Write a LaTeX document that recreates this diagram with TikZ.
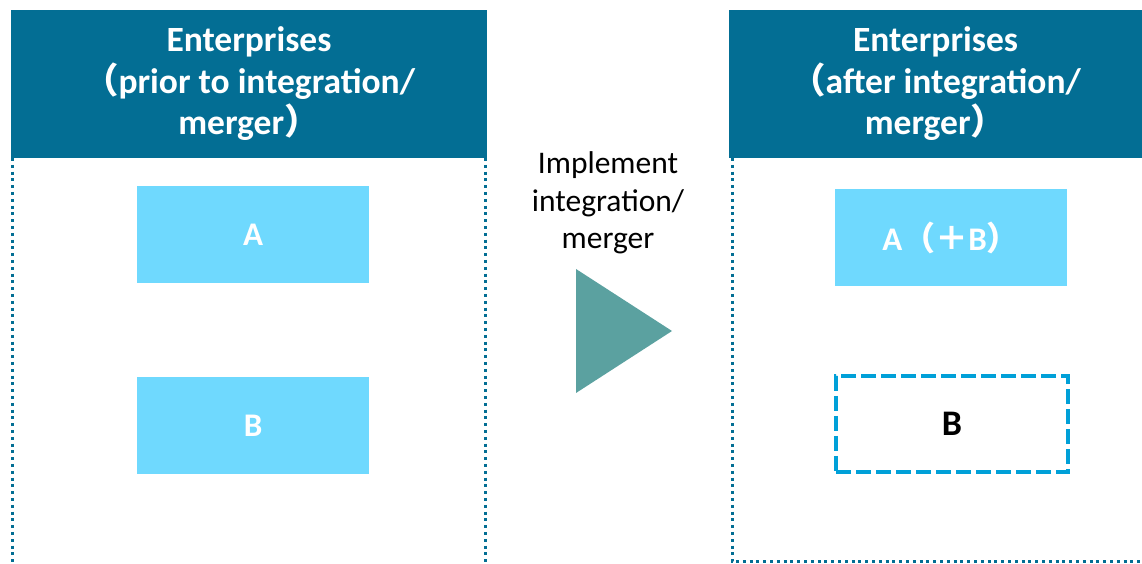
\documentclass[tikz,border=0pt]{standalone}
\usepackage{fontspec}
\setmainfont{Carlito}
\newfontfamily\cjk{Noto Sans CJK SC}
\definecolor{hdr}{RGB}{3,110,148}
\definecolor{lbox}{RGB}{111,217,254}
\definecolor{tri}{RGB}{91,161,160}
\definecolor{dsh}{RGB}{0,160,216}
\begin{document}
\begin{tikzpicture}[x=1pt,y=1pt,
  header/.style={fill=hdr,text=white,inner sep=0pt,minimum height=148pt,align=center,font=\bfseries\fontsize{35.5}{41.5}\selectfont},
  solidbox/.style={fill=lbox,text=white,inner sep=0pt,minimum width=232pt,minimum height=97pt,font=\bfseries\fontsize{33}{38}\selectfont},
  dashbox/.style={draw=dsh,line width=3.5pt,dash pattern=on 15pt off 5pt,inner sep=0pt,minimum width=232pt,minimum height=96pt,font=\bfseries\fontsize{36}{40}\selectfont},
  panel/.style={draw=hdr,line width=3pt,dash pattern=on 3pt off 3.8pt},
  mid/.style={align=center,font=\fontsize{31.5}{37.5}\selectfont}]
\useasboundingbox (0,0) rectangle (1142,564);
% left panel
\draw[panel] (12,406) -- (12,0);
\draw[panel] (485,406) -- (485,0);
\node[header,minimum width=476pt] (hl) at (249,480) {Enterprises\\{\cjk（}prior to integration/\\merger{\cjk）}};
\node[solidbox] (a) at (253,329.5) {A};
\node[solidbox] (b) at (253,138.5) {B};
% right panel
\draw[panel] (732,406) -- (732,2) -- (1142,2);
\node[header,minimum width=413pt] (hr) at (935.5,480) {Enterprises\\{\cjk（}after integration/\\merger{\cjk）}};
\node[solidbox] (ab) at (951,326.5) {A{\cjk（＋}B{\cjk）}};
\node[dashbox] (bd) at (952,140) {B};
% middle
\node[mid] (lbl) at (608,361) {Implement\\integration/\\merger};
\coordinate (t1) at (576,295);
\coordinate (t2) at (576,171);
\coordinate (t3) at (672,233);
\fill[tri] (t1) -- (t3) -- (t2) -- cycle;
\end{tikzpicture}
\end{document}
